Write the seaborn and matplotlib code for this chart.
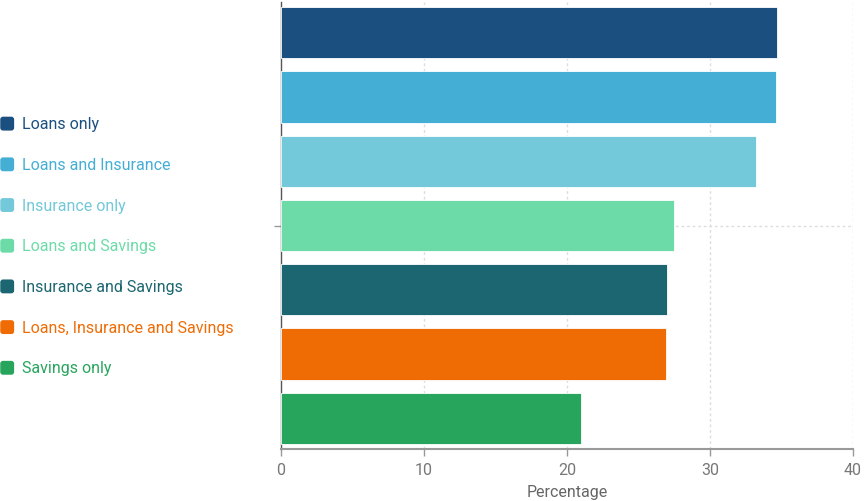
import matplotlib
matplotlib.use("Agg")
import matplotlib.pyplot as plt
import seaborn as sns
import pandas as pd
from matplotlib.patches import Patch, FancyBboxPatch
from matplotlib.legend_handler import HandlerPatch

categories = [""]
series = ["Loans only", "Loans and Insurance", "Insurance only", "Loans and Savings",
          "Insurance and Savings", "Loans, Insurance and Savings", "Savings only"]
values = [34.7, 34.6, 33.2, 27.5, 27.0, 26.9, 21.0]
colors = ["#1a4f80", "#44aed4", "#73c8d9", "#6cdba8", "#1b6670", "#ef6c05", "#27a55c"]
xticks = [0, 10, 20, 30, 40]

df = pd.DataFrame({"cat": categories * len(series), "series": series, "value": values})

sns.set_theme(style="white")
plt.rcParams["font.family"] = ["Roboto", "DejaVu Sans"]

FS = 11.5

fig = plt.figure(figsize=(8.67, 5.01), dpi=100)
ax = fig.add_axes([281 / 867, 1 - 449 / 501, (853 - 281) / 867, (449 - 2) / 501])

sns.barplot(data=df, x="value", y="cat", hue="series", hue_order=series,
            palette=colors, saturation=1, orient="h", width=1.0, gap=0.2, ax=ax,
            legend=False, edgecolor="white", linewidth=0.6, zorder=3)

ax.set_xlim(0, 40)
ax.set_ylim(0.497, -0.497)
ax.set_xticks(xticks)
ax.set_xticklabels([str(t) for t in xticks])
ax.set_yticks([0])
ax.set_yticklabels([""])
ax.set_ylabel("")
ax.set_xlabel("Percentage", fontsize=FS, color="#666666", labelpad=5)

for t in xticks[1:]:
    ax.axvline(t, color="#dddddd", linestyle=(0, (2, 2)), linewidth=1, zorder=1)
ax.axhline(0, color="#dddddd", linestyle=(0, (2, 2)), linewidth=1, zorder=1)

for s in ["top", "right"]:
    ax.spines[s].set_visible(False)
ax.spines["left"].set_color("#555555")
ax.spines["left"].set_linewidth(1)
ax.spines["bottom"].set_color("#999999")
ax.spines["bottom"].set_linewidth(1.5)

ax.tick_params(axis="x", colors="#999999", labelcolor="#777777", labelsize=FS,
               length=5, width=1, direction="out", bottom=True, pad=5)
ax.tick_params(axis="y", colors="#999999", length=5, width=1, left=True)


class RoundSquare(HandlerPatch):
    def create_artists(self, legend, orig_handle, xdescent, ydescent, width, height,
                       fontsize, trans):
        s = 10.0
        cx = width / 2 - xdescent
        cy = height / 2 - ydescent
        p = FancyBboxPatch((cx - s / 2, cy - s / 2), s, s,
                           boxstyle="round,pad=0,rounding_size=2",
                           facecolor=orig_handle.get_facecolor(), edgecolor="none",
                           transform=trans)
        return [p]


handles = [Patch(facecolor=c) for c in colors]
leg = fig.legend(handles, series, loc="upper left", bbox_to_anchor=(0.0, 1 - 117 / 501),
                 frameon=False, fontsize=FS, labelspacing=1.6, handletextpad=0.45,
                 handlelength=0.9, handleheight=0.9, borderaxespad=0, borderpad=0,
                 handler_map={Patch: RoundSquare()})
for txt, c in zip(leg.get_texts(), colors):
    txt.set_color(c)

fig.savefig("out.png", dpi=100)
